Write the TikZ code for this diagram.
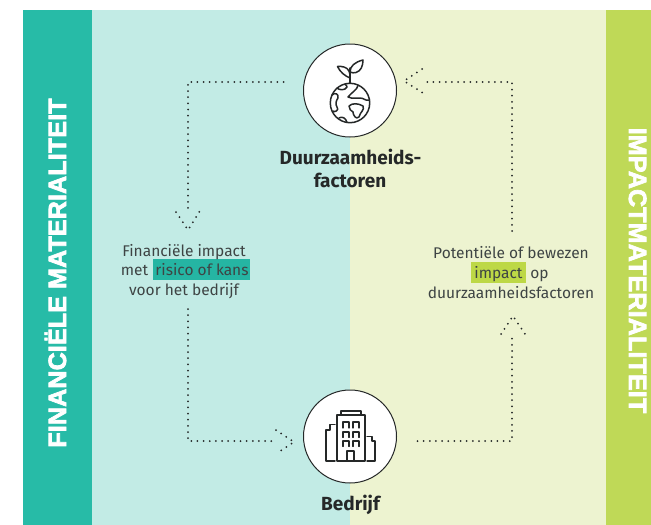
\documentclass[tikz,border=0pt]{standalone}
\usepackage{fontspec}
\setmainfont{Fira Sans}
\newfontface\sidefont[LetterSpace=0.7]{Liberation Sans Bold}
\newcommand{\heavytext}[1]{\special{pdf:code q 2 Tr 0.7 w 1 1 1 RG}#1\special{pdf:code Q}}
\definecolor{tealD}{HTML}{27BBA7}
\definecolor{tealL}{HTML}{C2EBE5}
\definecolor{greenD}{HTML}{BFD957}
\definecolor{greenL}{HTML}{EDF3D0}
\definecolor{tealH}{HTML}{25B5A3}
\definecolor{greenH}{HTML}{BDD846}
\definecolor{ink}{HTML}{3E4444}
\definecolor{inkB}{HTML}{252828}
\tikzset{
  x=1pt,y=-1pt,
  dots/.style={draw=inkB,line width=2pt,line cap=round,dash pattern=on 0pt off 6.15pt},
  lbl/.style={font=\fontsize{15.5}{15.5}\selectfont,text=ink,inner sep=0pt,anchor=base},
  ttl/.style={font=\fontsize{19}{19}\selectfont\bfseries,text=inkB,inner sep=0pt,anchor=base},
  side/.style={text=white,inner sep=0pt,anchor=base,font=\fontsize{25}{25}\sidefont},
  disc/.style={circle,draw=inkB,fill=white,line width=1pt,minimum size=93pt,inner sep=0pt},
  icon/.style={draw=inkB,line width=1.5pt,line join=round,line cap=round},
}
\begin{document}
\begin{tikzpicture}
\useasboundingbox (0,0) rectangle (651,525);
\fill[white] (0,0) rectangle (651,525);
\fill[tealD] (23,10) rectangle (92,525);
\fill[tealL] (92,10) rectangle (349.5,525);
\fill[greenL] (349.5,10) rectangle (606,525);
\fill[greenD] (606,10) rectangle (651,525);
\node[side,rotate=90] (fin) at (66,273) {\heavytext{FINANCIËLE MATERIALITEIT}};
\node[side,rotate=-90] (imp) at (629,270.5) {\heavytext{IMPACTMATERIALITEIT}};
% highlights
\fill[tealH] (153,259) rectangle (250,280);
\fill[greenH] (471,262) rectangle (526,283);
% circles
\node[disc] (top) at (350,90.5) {};
\node[disc] (bot) at (350,436.5) {};
% labels
\node[ttl] (t1) at (350.5,164) {Duurzaamheids-};
\node[ttl] (t2) at (350,187) {factoren};
\node[ttl] (t3) at (350.5,510) {Bedrijf};
\node[lbl] (a1) at (184,256) {Financiële impact};
\node[lbl] (a2) at (134.5,275) {met};
\node[lbl] (a3) at (202,275) {risico of kans};
\node[lbl] (a4) at (184,295) {voor het bedrijf};
\node[lbl] (b1) at (511,258) {Potentiële of bewezen};
\node[lbl] (b2) at (498.5,278) {impact};
\node[lbl] (b3) at (539.5,278) {op};
\node[lbl] (b4) at (511,298) {duurzaamheidsfactoren};
% route coordinates
\coordinate (A0) at (283.5,82);
\coordinate (A1) at (188,82);
\coordinate (A2) at (188,210);
\coordinate (AT) at (188,230);
\coordinate (AW1) at (176,212);
\coordinate (AW2) at (199.5,211.5);
\coordinate (B0) at (188,309);
\coordinate (B1) at (188,441);
\coordinate (B2) at (274,441);
\coordinate (BT) at (294,442);
\coordinate (BW1) at (276,430);
\coordinate (BW2) at (276.5,453.5);
\coordinate (C0) at (417.5,441);
\coordinate (C1) at (512,441);
\coordinate (C2) at (512,338);
\coordinate (CT) at (513,316);
\coordinate (CW1) at (501,334);
\coordinate (CW2) at (525,334);
\coordinate (D0) at (512,231);
\coordinate (D1) at (512,82);
\coordinate (D2) at (424.5,82);
\coordinate (DT) at (404,81);
\coordinate (DW1) at (422,69);
\coordinate (DW2) at (423,93);
% connectors
\draw[dots] (A0) -- (A1) -- (A2);
\draw[dots] (AW1) -- (AT) -- (AW2);
\draw[dots] (B0) -- (B1) -- (B2);
\draw[dots] (BW1) -- (BT) -- (BW2);
\draw[dots] (C0) -- (C1) -- (C2);
\draw[dots] (CW1) -- (CT) -- (CW2);
\draw[dots] (D0) -- (D1) -- (D2);
\draw[dots] (DW1) -- (DT) -- (DW2);
% globe icon
\draw[icon] (350,103) circle (19.7);
\draw[icon] (350,83) -- (350,68);
\draw[icon] (350,78) .. controls (345,76) and (340,72) .. (337.5,66.5) .. controls (342,66) and (347,67) .. (349,71) .. controls (350,73) and (350,75) .. (350,78);
\draw[icon] (350,72) .. controls (350,66) and (355,62) .. (363,60) .. controls (363,66) and (361,71) .. (356,72.5) .. controls (354,73) and (352,73) .. (350,72);
\draw[icon] (337,88) .. controls (339,90) and (345,91) .. (347,87) .. controls (347,85.5) and (346,85) .. (345,84.5);
\draw[icon] (332,95) .. controls (335,92) and (339,94) .. (338,98) .. controls (336,101) and (335,104) .. (337,107) .. controls (340,110) and (334,113) .. (333,111);
\draw[icon] (358,85.5) .. controls (357,90) and (352,92) .. (348,97) .. controls (352,100) and (362,96) .. (366,100) .. controls (367,100) and (369,100) .. (369.5,100);
\draw[icon] (349,106) .. controls (352,103) and (358,103) .. (363,106) .. controls (365,110) and (360,112) .. (359,117) .. controls (356,120) and (353,115) .. (353,112) .. controls (351,111) and (349,109) .. (349,106);
\draw[icon] (339,118) .. controls (342,116) and (346,118) .. (347,122.5);
% building icon
\draw[icon] (337,461) -- (337,415) -- (365,415) -- (365,461) -- cycle;
\draw[icon] (341,415) -- (341,411) -- (361,411) -- (361,415);
\foreach \wy/\wh in {422/6,432/5.5,441/5.5}{
  \draw[icon,line width=1.3pt] (343,\wy+\wh) -- (343,\wy) -- (349,\wy) -- (349,\wy+\wh);
  \draw[icon,line width=1.3pt] (353,\wy+\wh) -- (353,\wy) -- (359,\wy) -- (359,\wy+\wh);
}
\draw[icon] (347,461) -- (347,451) -- (354,451) -- (354,461);
\draw[icon] (335,461) -- (326,461) -- (326,430) -- (330,430) -- (330,424.5) -- (335,424.5);
\draw[icon] (367,461) -- (375,461) -- (375,441) -- (372,441) -- (372,436.5) -- (367,436.5);
\end{tikzpicture}
\end{document}
